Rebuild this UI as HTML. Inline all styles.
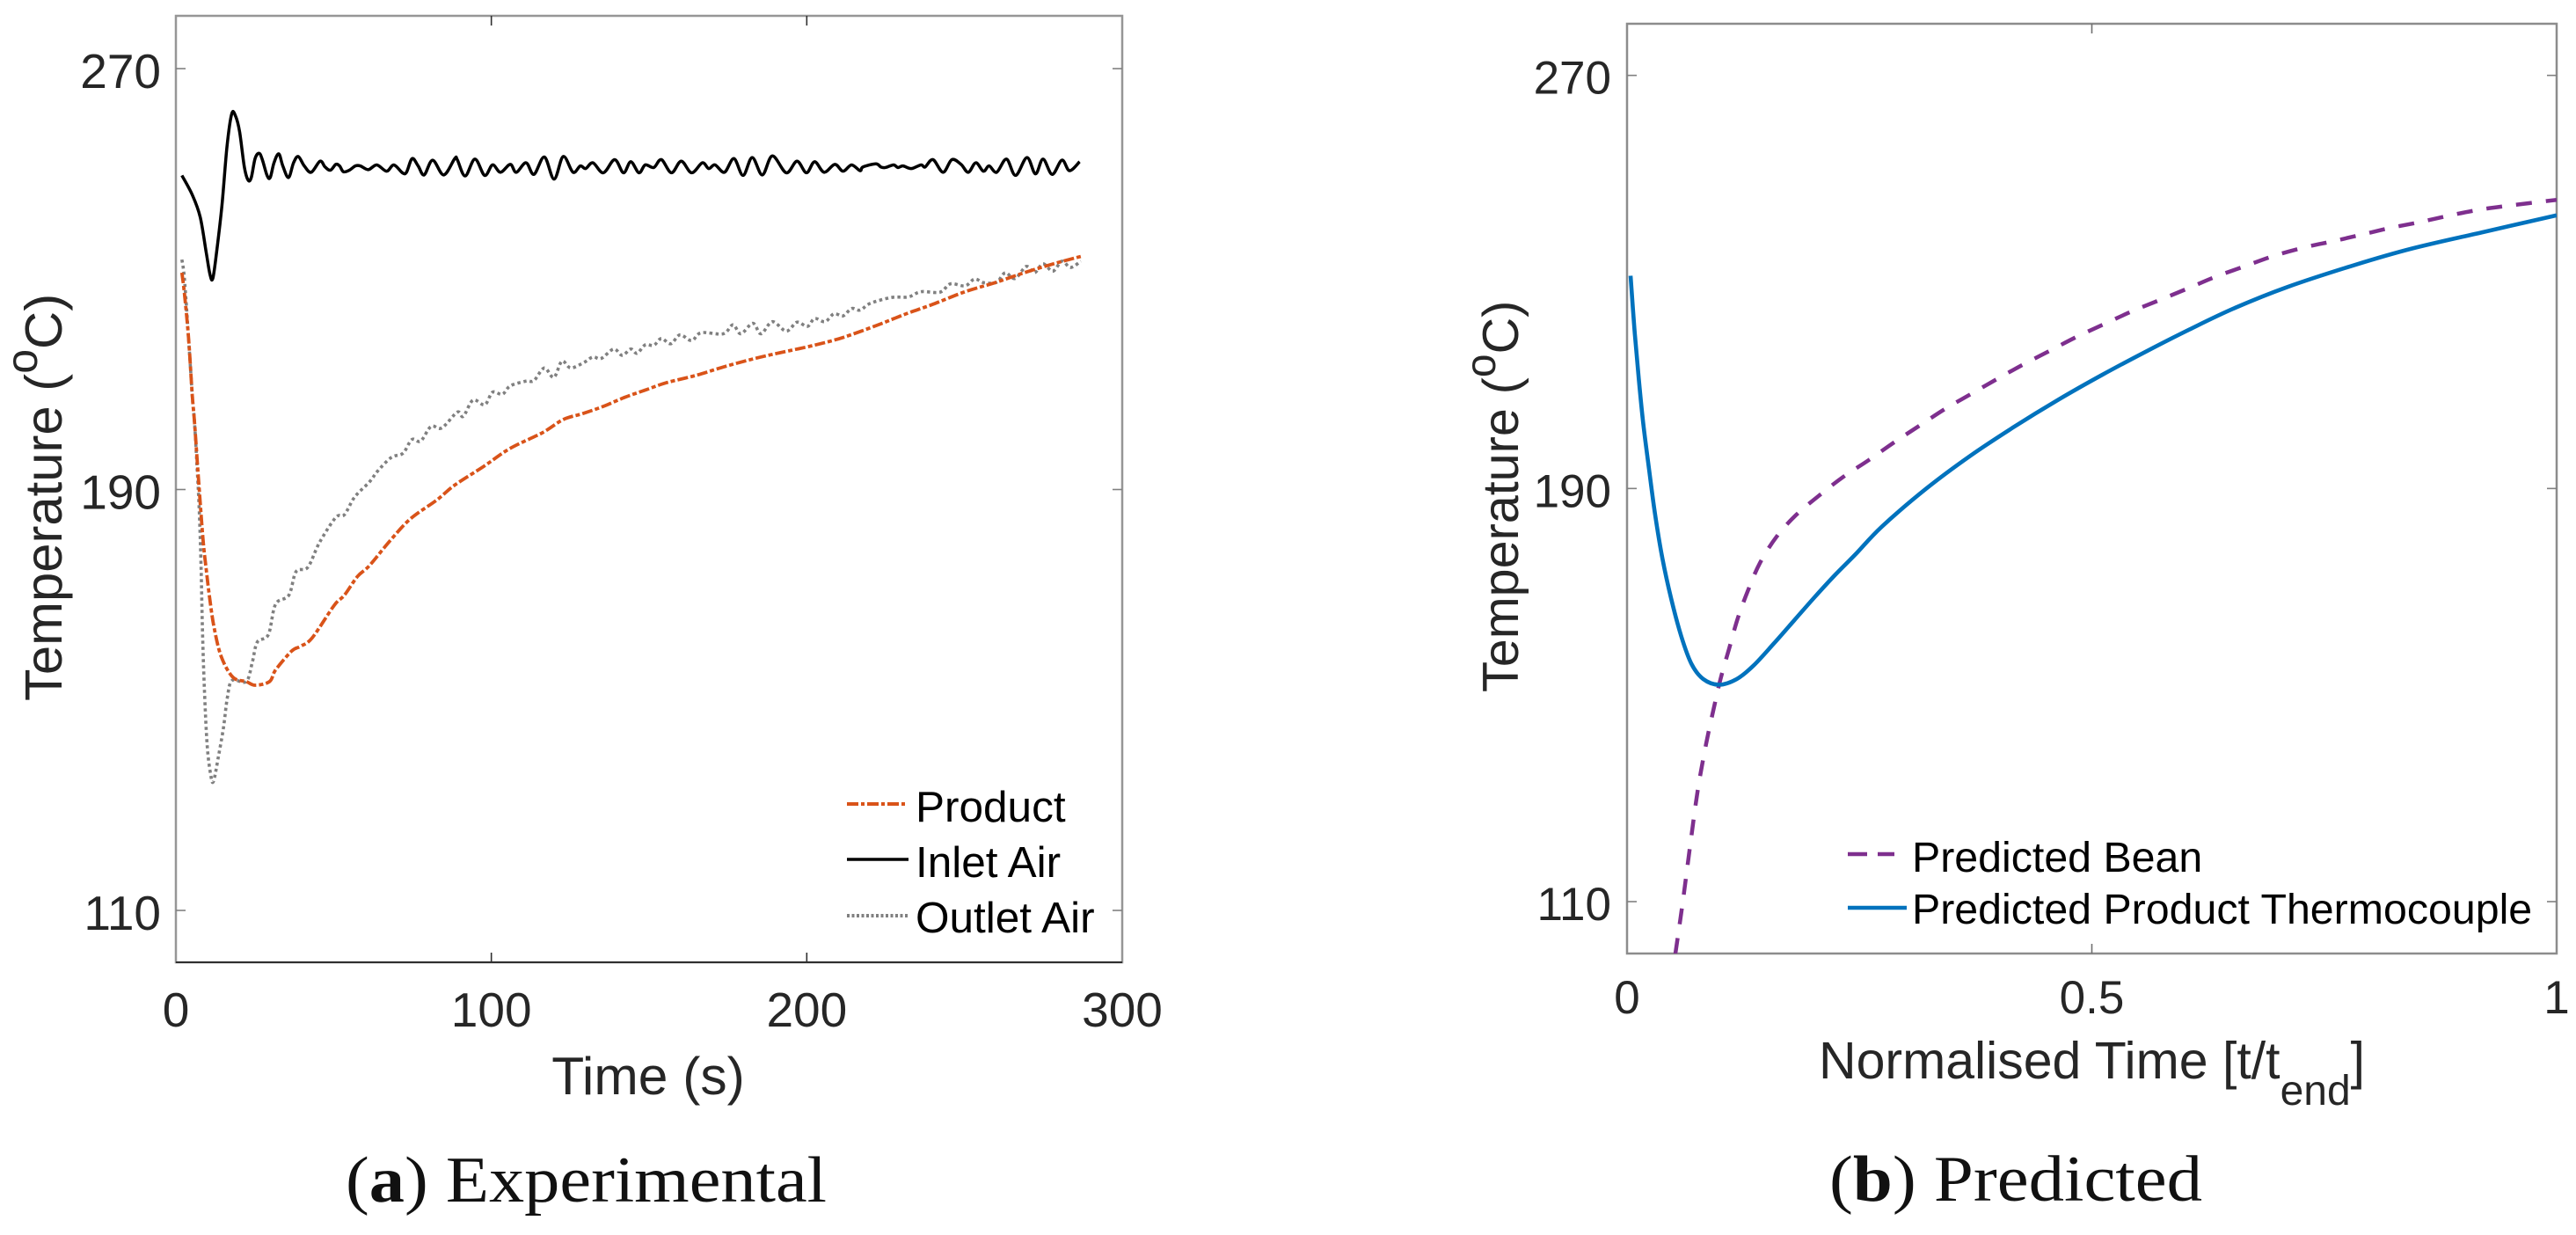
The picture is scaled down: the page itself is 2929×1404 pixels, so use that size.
<!DOCTYPE html>
<html lang="en">
<head>
<meta charset="utf-8">
<title>Experimental and predicted temperature profiles</title>
<style>
html,body{margin:0;padding:0;background:#fff;}
body{width:2929px;height:1404px;overflow:hidden;}
svg{display:block;}
text{font-family:"Liberation Sans",sans-serif;fill:#262626;}
.cap{font-family:"Liberation Serif",serif;fill:#111;}
</style>
</head>
<body>
<svg id="figure" xmlns="http://www.w3.org/2000/svg" width="2929" height="1404" viewBox="0 0 2929 1404">
<defs>
<clipPath id="clip-a"><rect x="200" y="18" width="1076" height="1076"/></clipPath>
<clipPath id="clip-b"><rect x="1850" y="27" width="1057" height="1057"/></clipPath>
</defs>
<g id="panel-a">
<rect x="200" y="18" width="1076" height="1076" fill="#fff" stroke="#969696" stroke-width="2.5"/>
<line x1="200" y1="1094" x2="1276" y2="1094" stroke="#303030" stroke-width="2"/>
<g id="ticks-a"></g>
<g id="series-a" clip-path="url(#clip-a)"></g>
<text transform="translate(70,797) rotate(-90)" font-size="59.8">Temperature (<tspan dy="-28" font-size="50">o</tspan><tspan dy="28">C)</tspan></text>
<text x="737" y="1244" font-size="60.5" text-anchor="middle">Time (s)</text>
<g>
<line x1="963" y1="914" x2="1032" y2="914" stroke="#D95319" stroke-width="4" stroke-dasharray="13 3 4 3"/>
<text x="1041" y="934" font-size="49.5" style="fill:#000">Product</text>
<line x1="963" y1="977" x2="1033" y2="977" stroke="#000" stroke-width="3.5"/>
<text x="1041" y="997" font-size="49.5" style="fill:#000">Inlet Air</text>
<line x1="963" y1="1041" x2="1034" y2="1041" stroke="#808080" stroke-width="4" stroke-dasharray="3 2.5"/>
<text x="1041" y="1060" font-size="49.5" style="fill:#000">Outlet Air</text>
</g>
<text class="cap" x="393" y="1366" font-size="74" textLength="547" lengthAdjust="spacingAndGlyphs">(<tspan font-weight="bold">a</tspan>) Experimental</text>
</g>
<g id="panel-b">
<rect x="1850" y="27" width="1057" height="1057" fill="#fff" stroke="#8c8c8c" stroke-width="2.5"/>
<g id="ticks-b"></g>
<g id="series-b" clip-path="url(#clip-b)"></g>
<text transform="translate(1726,787) rotate(-90)" font-size="57.5">Temperature (<tspan dy="-26" font-size="48">o</tspan><tspan dy="26">C)</tspan></text>
<text x="2068" y="1226" font-size="59">Normalised Time [t/t<tspan dy="30" font-size="48">end</tspan><tspan dy="-30">]</tspan></text>
<g>
<line x1="2101" y1="971" x2="2154" y2="971" stroke="#7E2F8E" stroke-width="4.5" stroke-dasharray="22 12"/>
<text x="2174" y="991" font-size="48.3" style="fill:#000">Predicted Bean</text>
<line x1="2101" y1="1032" x2="2168" y2="1032" stroke="#0072BD" stroke-width="4.5"/>
<text x="2174" y="1050" font-size="48.3" style="fill:#000">Predicted Product Thermocouple</text>
</g>
<text class="cap" x="2080" y="1365" font-size="74" textLength="424" lengthAdjust="spacingAndGlyphs">(<tspan font-weight="bold">b</tspan>) Predicted</text>
</g>
</svg>
<script>
const xTicksA = [0, 100, 200, 300];
const yTicksA = [110, 190, 270];
const xTicksB = [0, 0.5, 1];
const yTicksB = [110, 190, 270];

const inletTime = [1.9,5.2,7.7,9.6,10.8,11.7,12.9,14.6,16.2,17.7,18.9,20.2,21.7,22.9,23.9,25.1,26.4,27.4,28.9,29.9,31.1,32.6,33.9,35.7,37.3,38.8,40.7,42.9,45.7,47.3,49.0,50.7,51.9,53.1,55.0,56.9,58.5,61.0,63.7,66.8,69.1,71.8,73.1,74.9,76.8,78.7,81.4,84.9,88.4,89.2,91.7,94.8,97.9,100.4,102.9,106.0,107.9,111.0,113.5,116.8,119.9,122.8,125.9,128.2,129.9,132.2,135.5,139.1,141.9,144.2,146.8,148.8,151.5,153.9,157.1,160.2,163.5,166.9,168.9,170.9,173.9,176.9,179.8,182.7,185.9,189.1,193.5,196.9,199.9,202.5,205.5,208.9,211.5,214.2,216.9,217.8,221.9,223.5,224.9,227.5,228.9,230.5,233.1,236.2,237.5,240.0,243.2,246.0,248.9,251.2,253.6,256.0,257.8,260.2,263.3,266.2,269.8,272.5,274.9,277.8,280.9,283.3,286.5];
const inletTemp = [249.7,246.0,241.8,235.1,230.9,230.1,235.1,244.0,255.2,261.4,261.0,258.0,251.3,248.8,249.3,252.9,253.9,252.7,249.7,249.3,252.1,253.8,251.5,249.3,252.1,253.3,251.5,250.3,252.4,251.3,250.7,251.8,251.5,250.4,250.7,251.5,251.5,250.8,251.7,250.5,251.7,250.2,250.3,252.9,251.5,249.8,252.6,249.8,252.9,252.7,249.6,252.8,249.7,251.7,250.3,251.8,250.3,252.1,249.9,253.2,249.0,253.3,250.3,251.5,251.0,252.1,250.2,252.7,250.2,252.3,250.2,251.7,251.2,252.7,250.2,252.4,250.2,252.1,251.0,251.7,250.3,252.9,249.7,253.1,249.8,253.4,250.2,252.4,250.2,252.3,250.3,251.8,250.5,251.7,250.6,251.3,251.9,251.3,251.2,251.7,251.2,251.5,251.0,251.7,251.3,252.7,250.3,252.7,251.8,250.3,252.1,250.5,251.5,250.3,252.8,249.7,253.1,250.0,252.8,249.9,252.6,250.6,252.3];

const outletTime = [1.9,2.7,4.0,5.2,5.9,6.7,7.4,8.0,8.4,9.0,9.9,11.0,11.9,13.5,15.1,16.3,17.8,22.3,24.2,25.8,29.3,31.6,35.8,38.1,41.8,45.5,50.7,53.4,56.7,61.3,64.1,68.3,72.0,74.8,77.6,80.9,84.3,89.2,91.1,94.2,97.9,100.4,103.5,106.0,111.0,113.5,116.8,119.8,122.4,125.2,129.5,132.2,134.8,138.8,141.5,144.2,146.2,148.8,151.5,153.9,156.9,159.8,163.5,166.5,173.5,176.6,179.1,182.9,185.5,189.1,193.5,196.9,200.2,202.5,205.8,208.6,211.5,214.2,216.9,220.2,226.9,232.2,236.2,242.2,245.6,250.2,253.2,256.2,260.2,262.9,266.0,269.6,272.2,274.9,278.0,280.9,283.6,286.9];
const outletTemp = [233.7,230.1,218.9,207.8,202.8,194.4,186.1,174.9,163.8,152.6,141.5,135.9,134.5,139.3,144.8,150.4,153.7,153.5,157.1,161.0,162.4,168.2,169.9,174.4,175.2,179.9,184.7,185.2,188.6,191.4,193.6,196.1,196.9,199.5,199.2,202.0,201.7,204.7,203.9,207.0,206.1,208.5,208.1,209.7,210.6,210.7,213.1,211.3,214.4,213.1,214.2,215.2,214.9,216.7,215.5,216.7,215.9,217.5,217.4,218.7,217.7,219.4,218.3,219.8,219.6,221.3,219.6,221.6,219.6,221.9,220.1,221.8,221.0,222.5,221.9,223.4,223.0,224.4,224.1,225.4,226.5,226.6,227.6,227.5,229.1,228.7,230.0,229.3,229.4,231.2,230.1,232.4,231.2,232.9,231.5,233.4,232.2,233.4];

const productTime = [1.9,2.7,4.0,5.2,5.9,7.2,8.6,9.6,10.7,12.1,14.4,18.1,22.3,25.1,29.7,31.6,36.7,39.5,43.2,50.2,53.4,57.6,61.3,67.8,74.3,82.7,88.3,97.6,105.9,116.2,122.8,128.8,135.5,142.2,148.8,155.5,164.9,174.2,183.5,191.5,202.2,211.5,222.2,231.5,239.5,250.2,259.6,268.9,278.2,286.9];
const productTemp = [231.2,227.3,218.9,207.8,202.8,191.7,180.5,174.9,169.4,163.8,158.2,154.3,153.5,152.8,153.5,155.7,159.3,160.2,161.8,168.0,169.9,173.5,175.5,180.2,184.4,188.0,190.8,194.4,197.8,200.8,203.3,204.4,205.8,207.5,208.9,210.3,211.7,213.4,214.9,216.0,217.4,218.9,221.2,223.4,225.1,227.6,229.3,231.2,232.9,234.3];

const beanTime = [0.052,0.060,0.068,0.076,0.085,0.094,0.101,0.110,0.119,0.130,0.143,0.161,0.182,0.207,0.233,0.260,0.287,0.314,0.342,0.370,0.398,0.426,0.455,0.484,0.514,0.543,0.573,0.604,0.633,0.664,0.695,0.729,0.760,0.791,0.822,0.853,0.883,0.914,0.945,1.0];
const beanTemp = [99.9,110.0,121.0,131.5,140.5,148.0,153.4,159.1,164.8,170.2,175.6,180.7,184.9,188.7,192.3,195.5,198.9,202.1,205.4,208.3,211.2,214.0,216.7,219.4,221.9,224.3,226.5,228.8,231.0,233.0,235.0,236.7,237.9,239.2,240.5,241.6,242.8,243.9,244.7,245.9];

const thermoTime = [0.0038,0.0079,0.0126,0.0173,0.0237,0.0300,0.0378,0.0473,0.0583,0.0694,0.0820,0.099,0.118,0.136,0.158,0.180,0.202,0.224,0.246,0.274,0.322,0.369,0.416,0.464,0.511,0.558,0.605,0.653,0.710,0.783,0.845,0.922,1.0];
const thermoTemp = [231.2,221.0,211.3,202.8,193.7,185.2,176.7,168.8,161.4,156.0,153.1,152.0,153.1,155.7,160.0,164.5,169.0,173.3,177.3,182.6,190.0,196.3,201.9,207.2,212.0,216.5,220.8,224.9,229.0,233.3,236.5,239.7,242.9];

const NS = 'http://www.w3.org/2000/svg';
function xA(v){ return 200 + v * (1276 - 200) / 300; }
function yA(v){ return 78 + (270 - v) * (1035 - 78) / 160; }
function xB(v){ return 1850 + v * (2907 - 1850); }
function yB(v){ return 85.7 + (270 - v) * (1025 - 85.7) / 160; }

function smoothPath(xs, ys, fx, fy){
  const px = xs.map(fx), py = ys.map(fy);
  let d = 'M' + px[0].toFixed(2) + ' ' + py[0].toFixed(2);
  for (let i = 0; i < px.length - 1; i++) {
    const a = Math.max(i - 1, 0), b = Math.min(i + 2, px.length - 1);
    const c1x = px[i] + (px[i + 1] - px[a]) / 6, c1y = py[i] + (py[i + 1] - py[a]) / 6;
    const c2x = px[i + 1] - (px[b] - px[i]) / 6, c2y = py[i + 1] - (py[b] - py[i]) / 6;
    d += 'C' + c1x.toFixed(2) + ' ' + c1y.toFixed(2) + ' ' + c2x.toFixed(2) + ' ' + c2y.toFixed(2) + ' ' + px[i + 1].toFixed(2) + ' ' + py[i + 1].toFixed(2);
  }
  return d;
}
function addSeries(parentId, d, color, width, dash, name){
  const el = document.createElementNS(NS, 'path');
  el.setAttribute('d', d);
  el.setAttribute('fill', 'none');
  el.setAttribute('stroke', color);
  el.setAttribute('stroke-width', width);
  el.setAttribute('stroke-linejoin', 'round');
  if (dash) el.setAttribute('stroke-dasharray', dash);
  
  
  document.getElementById(parentId).appendChild(el);
}
function addTickMark(parentId, x1, y1, x2, y2, color){
  const el = document.createElementNS(NS, 'line');
  el.setAttribute('x1', x1);
  el.setAttribute('y1', y1);
  el.setAttribute('x2', x2);
  el.setAttribute('y2', y2);
  el.setAttribute('stroke', color);
  el.setAttribute('stroke-width', 1.6);
  
  
  document.getElementById(parentId).appendChild(el);
}
function addTickLabel(parentId, x, y, label, anchor, size){
  const el = document.createElementNS(NS, 'text');
  el.setAttribute('x', x);
  el.setAttribute('y', y);
  el.setAttribute('text-anchor', anchor);
  el.setAttribute('font-size', size);
  el.textContent = label;
  
  
  document.getElementById(parentId).appendChild(el);
}
function drawAxes(parentId, xs, ys, fx, fy, left, right, top, bottom, xBase, yRight, size, baseOff, color){
  xs.forEach(function(v){
    const x = fx(v);
    if (x > left + 1 && x < right - 1) {
      addTickMark(parentId, x, top, x, top + 11, color);
      addTickMark(parentId, x, bottom, x, bottom - 11, color);
    }
    addTickLabel(parentId, x, xBase, String(v), 'middle', size);
  });
  ys.forEach(function(v){
    const y = fy(v);
    addTickMark(parentId, left, y, left + 11, y, '#808080');
    addTickMark(parentId, right, y, right - 11, y, '#808080');
    addTickLabel(parentId, yRight, y + baseOff, String(v), 'end', size);
  });
}

drawAxes('ticks-a', xTicksA, yTicksA, xA, yA, 200, 1276, 18, 1094, 1167, 183, 55, 22, '#303030');
drawAxes('ticks-b', xTicksB, yTicksB, xB, yB, 1850, 2907, 27, 1084, 1152, 1832, 53, 21, '#707070');

addSeries('series-a', smoothPath(inletTime, inletTemp, xA, yA), '#000000', 3.5, '', 'inlet-air-line');
addSeries('series-a', smoothPath(outletTime, outletTemp, xA, yA), '#808080', 3.6, '3.5 3.5', 'outlet-air-line');
addSeries('series-a', smoothPath(productTime, productTemp, xA, yA), '#D95319', 3.8, '12 3 5 3', 'product-line');
addSeries('series-b', smoothPath(beanTime, beanTemp, xB, yB), '#7E2F8E', 4.5, '18 16', 'predicted-bean-line');
addSeries('series-b', smoothPath(thermoTime, thermoTemp, xB, yB), '#0072BD', 4.6, '', 'predicted-product-thermocouple-line');
</script>
</body>
</html>
